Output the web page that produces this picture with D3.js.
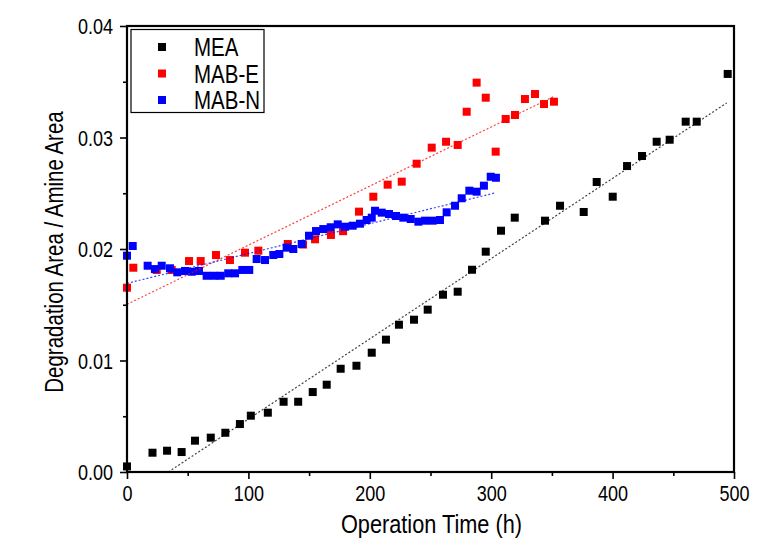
<!DOCTYPE html>
<html>
<head>
<meta charset="utf-8">
<script src="https://cdn.jsdelivr.net/npm/d3@7"></script>
<style>
  html, body { margin: 0; padding: 0; background: #fff; }
  svg text { font-family: "Liberation Sans", Arial, sans-serif; fill: #000; }
</style>
</head>
<body>
<svg id="chart" width="768" height="548"></svg>
<script>
// ---- Data ----
const meaTime = [0, 21, 33, 45, 56, 69, 81, 93, 102, 116, 129, 141, 153, 164.5, 176, 189, 201.6, 213.3, 224, 236.4, 247.7, 260.3, 272.4, 284.2, 295.5, 308.1, 319.4, 344.3, 356.7, 376.2, 386.9, 400.1, 411.9, 424.2, 436.3, 447, 460.2, 469.3, 494.8];
const meaValue = [0.0005, 0.00173, 0.00191, 0.00179, 0.00281, 0.00308, 0.00352, 0.0043, 0.00505, 0.00532, 0.0063, 0.0063, 0.00717, 0.00783, 0.00926, 0.00953, 0.0107, 0.01187, 0.01321, 0.01366, 0.01456, 0.0159, 0.01617, 0.01814, 0.01976, 0.02164, 0.02281, 0.02254, 0.02388, 0.02332, 0.02601, 0.02469, 0.02744, 0.02834, 0.02962, 0.0298, 0.03142, 0.03142, 0.0357];

const mabeTime = [0, 5.2, 24.5, 36.8, 51.1, 60.7, 73.3, 84.8, 97.2, 108.2, 132.4, 145, 154.9, 168, 178, 191.1, 202.9, 214.7, 226.3, 238.6, 251, 262.8, 272.4, 279.8, 288, 295.5, 303.7, 311.9, 319.6, 327.8, 336.1, 343.5, 351.7];
const mabeValue = [0.01653, 0.01832, 0.01812, 0.01812, 0.01892, 0.01892, 0.01946, 0.01901, 0.01967, 0.01985, 0.02045, 0.0204, 0.02087, 0.02126, 0.0216, 0.02335, 0.02469, 0.02577, 0.02604, 0.02765, 0.02909, 0.02962, 0.02933, 0.03231, 0.03492, 0.03357, 0.02873, 0.03166, 0.03202, 0.03345, 0.0339, 0.033, 0.03321];

const mabnTime = [0, 4.7, 17, 23, 28.6, 35.4, 41.4, 47.8, 53.3, 59.3, 65.6, 71.7, 77.2, 83.4, 89, 95, 100.7, 106.8, 113.7, 120.5, 125.5, 131.5, 137, 143.9, 149.9, 155.7, 161.7, 167.8, 173.6, 179.6, 185.9, 191.9, 197.4, 201.6, 204.3, 209.8, 215.8, 221.6, 227.6, 233.7, 240, 245.5, 251.8, 257.8, 263.3, 270.2, 275.7, 282, 288, 294, 299.6, 303.9];
const mabnValue = [0.0194, 0.02027, 0.0185, 0.0182, 0.0185, 0.01827, 0.01791, 0.01803, 0.01796, 0.01803, 0.0176, 0.0176, 0.0176, 0.01782, 0.01782, 0.01812, 0.01812, 0.0191, 0.01901, 0.01946, 0.01955, 0.02012, 0.02, 0.02045, 0.02119, 0.02161, 0.02179, 0.02195, 0.02221, 0.022, 0.02209, 0.02227, 0.0226, 0.02281, 0.02343, 0.02326, 0.02314, 0.02296, 0.02281, 0.02269, 0.02245, 0.02254, 0.02254, 0.0226, 0.02329, 0.02388, 0.02455, 0.02523, 0.02514, 0.02568, 0.02648, 0.02639];

// linear fit lines: [startTime, startValue, endTime, endValue]
const meaFit = [34, 0.0, 494, 0.0331];
const mabeFit = [0, 0.01504, 352, 0.0337];
const mabnFit = [0, 0.01692, 304, 0.02505];

const seriesNames = ["MEA", "MAB-E", "MAB-N"];
const seriesColors = ["#000000", "#ff0000", "#0000ff"];

const xTicks = [0, 100, 200, 300, 400, 500];
const xMinorTicks = [50, 150, 250, 350, 450];
const yTicks = [0.00, 0.01, 0.02, 0.03, 0.04];
const yMinorTicks = [0.005, 0.015, 0.025, 0.035];

const xTitle = "Operation Time (h)";
const yTitle = "Degradation Area / Amine Area";

// ---- Layout ----
const svg = d3.select("#chart");
const pL = 127, pR = 734, pT = 26, pB = 472;
const sx = 0.82; // horizontal condensation of the text
const x = d3.scaleLinear().domain([0, 500]).range([pL, pR]);
const y = d3.scaleLinear().domain([0, 0.04]).range([pB, pT]);

svg.append("defs").append("clipPath").attr("id", "plotclip")
  .append("rect").attr("x", pL).attr("y", pT).attr("width", pR - pL).attr("height", pB - pT);

// axes
const fmtY = d3.format(".2f");
const xAxis = d3.axisBottom(x).tickValues(xTicks).tickFormat(d3.format("d")).tickSize(7).tickSizeOuter(0);
const xMinor = d3.axisBottom(x).tickValues(xMinorTicks).tickFormat("").tickSize(4).tickSizeOuter(0);
const yAxis = d3.axisLeft(y).tickValues(yTicks).tickFormat(fmtY).tickSize(7).tickSizeOuter(0);
const yMinor = d3.axisLeft(y).tickValues(yMinorTicks).tickFormat("").tickSize(4).tickSizeOuter(0);

const gx = svg.append("g").attr("transform", `translate(0,${pB})`).call(xAxis);
svg.append("g").attr("transform", `translate(0,${pB})`).call(xMinor);
const gy = svg.append("g").attr("transform", `translate(${pL},0)`).call(yAxis);
svg.append("g").attr("transform", `translate(${pL},0)`).call(yMinor);

svg.selectAll(".domain").remove();
svg.selectAll(".tick line").attr("stroke", "#000").attr("stroke-width", 1.6);
gx.selectAll(".tick text").attr("font-size", 22).attr("dy", null).attr("y", 29)
  .attr("transform", `scale(${sx},1)`);
gy.selectAll(".tick text").attr("font-size", 22).attr("x", -14 / sx).attr("dy", "0.36em")
  .attr("transform", `scale(${sx},1)`);

// data layers
const ms = 8;
function drawSquares(times, values, color) {
  const pts = times.map((t, i) => [t, values[i]]);
  svg.append("g").selectAll("rect").data(pts).enter().append("rect")
    .attr("x", d => x(d[0]) - ms / 2)
    .attr("y", d => y(d[1]) - ms / 2)
    .attr("width", ms).attr("height", ms)
    .attr("fill", color);
}
drawSquares(meaTime, meaValue, seriesColors[0]);
drawSquares(mabeTime, mabeValue, seriesColors[1]);
drawSquares(mabnTime, mabnValue, seriesColors[2]);

const line = d3.line().x(d => x(d[0])).y(d => y(d[1]));
const fitLayer = svg.append("g").attr("clip-path", "url(#plotclip)");
[meaFit, mabeFit, mabnFit].forEach((f, i) => {
  fitLayer.append("path")
    .attr("d", line([[f[0], f[1]], [f[2], f[3]]]))
    .attr("fill", "none")
    .attr("stroke", seriesColors[i])
    .attr("stroke-width", 1.2)
    .attr("stroke-opacity", 0.75)
    .attr("stroke-dasharray", "2,2");
});

// frame
svg.append("rect").attr("x", pL).attr("y", pT).attr("width", pR - pL).attr("height", pB - pT)
  .attr("fill", "none").attr("stroke", "#000").attr("stroke-width", 2.2);

// legend
const lg = svg.append("g");
lg.append("rect").attr("x", 131).attr("y", 29.5).attr("width", 133).attr("height", 83)
  .attr("fill", "#fff").attr("stroke", "#000").attr("stroke-width", 1.2);
seriesNames.forEach((name, i) => {
  const cy = 47 + i * 26.5;
  lg.append("rect").attr("x", 162 - ms / 2).attr("y", cy - ms / 2).attr("width", ms).attr("height", ms)
    .attr("fill", seriesColors[i]);
  lg.append("text").attr("transform", `translate(194,${cy}) scale(${sx},1)`).attr("dy", "0.36em")
    .attr("font-size", 25).text(name);
});

// titles
svg.append("text").attr("transform", `translate(${(pL + pR) / 2 + 1},533) scale(${sx},1)`).attr("text-anchor", "middle")
  .attr("font-size", 26.5).text(xTitle);
svg.append("text").attr("transform", `translate(63,${(pT + pB) / 2 + 3}) rotate(-90) scale(${sx},1)`)
  .attr("text-anchor", "middle").attr("font-size", 25).text(yTitle);
</script>
</body>
</html>
